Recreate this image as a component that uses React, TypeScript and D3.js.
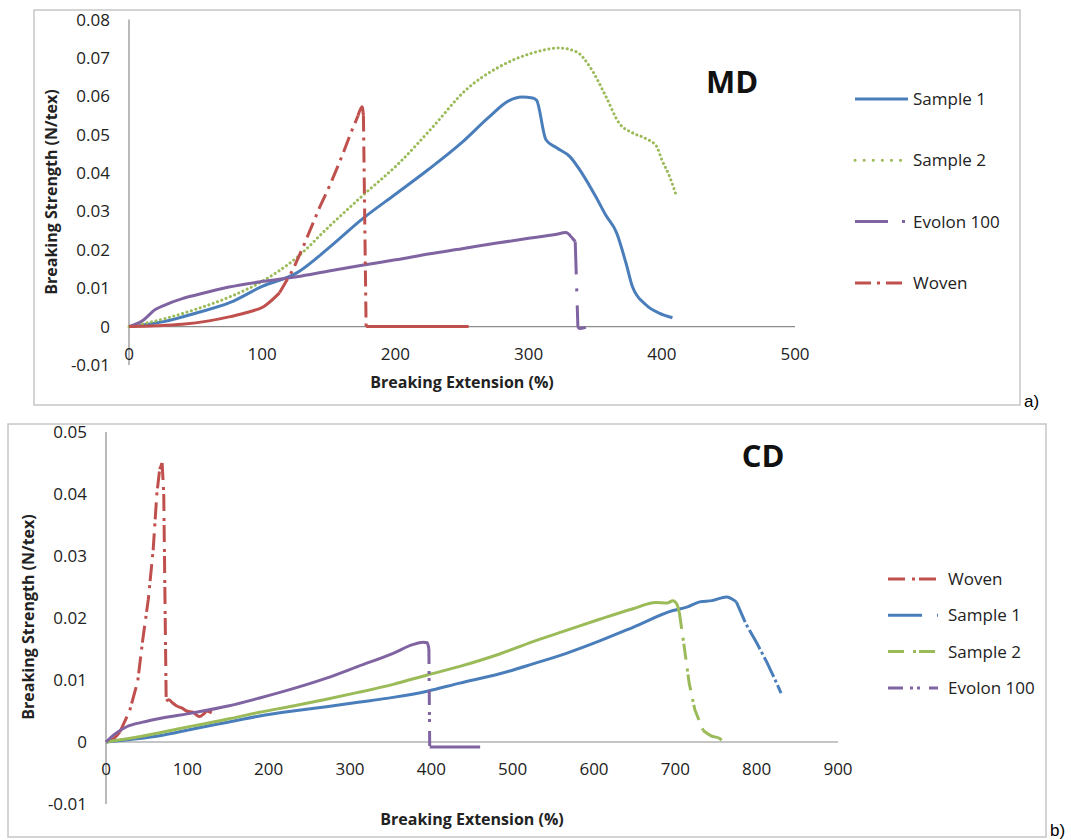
import React from 'react';
import * as d3 from 'd3';

// ---------- a) MD : breaking extension (%) vs breaking strength (N/tex) ----------
const mdSample1X = [0, 10, 26, 50, 76, 100, 126, 150, 175, 200, 225, 250, 270, 285, 295, 303, 306, 313, 321, 331, 340, 351, 358, 366, 373, 378, 388, 398, 408];
const mdSample1Y = [0, 0.0004, 0.0013, 0.0035, 0.0063, 0.0105, 0.014, 0.0205, 0.028, 0.0345, 0.041, 0.048, 0.0545, 0.0588, 0.0598, 0.0596, 0.059, 0.0487, 0.0466, 0.0443, 0.04, 0.0335, 0.029, 0.0245, 0.0167, 0.0104, 0.0057, 0.0035, 0.0023];

const mdSample2X = [0, 26, 50, 76, 100, 126, 150, 175, 203, 228, 253, 278, 303, 323, 336, 346, 358, 368, 378, 388, 396, 400, 406, 411];
const mdSample2Y = [0, 0.002, 0.0045, 0.0078, 0.0118, 0.018, 0.026, 0.034, 0.0427, 0.052, 0.0617, 0.0677, 0.0713, 0.0726, 0.0716, 0.0677, 0.06, 0.053, 0.0505, 0.049, 0.047, 0.0435, 0.039, 0.034];

const mdEvolonX = [0, 10, 20, 26, 40, 51, 75, 101, 126, 150, 175, 200, 226, 250, 275, 300, 320, 328, 333, 335, 337, 338, 343];
const mdEvolonY = [0, 0.0015, 0.0045, 0.0055, 0.0073, 0.0083, 0.0103, 0.0118, 0.013, 0.0145, 0.016, 0.0174, 0.019, 0.0203, 0.0217, 0.023, 0.024, 0.0245, 0.023, 0.0222, 0, -0.0005, -0.0002];

const mdWovenX = [0, 20, 40, 60, 76, 90, 101, 113, 123, 131, 143, 151, 160, 166, 172, 175, 176, 178, 180, 200, 230, 255];
const mdWovenY = [0, 0.0002, 0.0006, 0.0015, 0.0026, 0.0038, 0.0052, 0.0088, 0.0148, 0.021, 0.031, 0.037, 0.0445, 0.05, 0.055, 0.0573, 0.055, 0, 0, 0, 0, 0];

const mdTicksX = [0, 100, 200, 300, 400, 500];
const mdTicksY = [-0.01, 0, 0.01, 0.02, 0.03, 0.04, 0.05, 0.06, 0.07, 0.08];

// ---------- b) CD ----------
const cdWovenX = [0, 10, 17, 29, 39, 45, 52, 58, 62.5, 66, 69, 71, 74, 77, 82, 87, 93, 99, 107, 115, 120, 124, 130];
const cdWovenY = [0, 0.0006, 0.0016, 0.005, 0.0098, 0.0163, 0.023, 0.031, 0.04, 0.044, 0.045, 0.04, 0.0066, 0.0068, 0.0063, 0.0058, 0.0055, 0.005, 0.0048, 0.0041, 0.0045, 0.005, 0.0047];

const cdSample1X = [0, 30, 66, 107, 150, 189, 230, 271, 310, 353, 395, 435, 484, 525, 566, 607, 648, 697, 715, 730, 745, 763, 775, 787, 800, 812, 821, 830];
const cdSample1Y = [0, 0.0004, 0.001, 0.0021, 0.0032, 0.0042, 0.005, 0.0057, 0.0064, 0.0072, 0.0082, 0.0095, 0.011, 0.0126, 0.0143, 0.0163, 0.0185, 0.0212, 0.0218, 0.0226, 0.0228, 0.0234, 0.0226, 0.019, 0.016, 0.013, 0.0105, 0.0079];

const cdSample2X = [0, 30, 66, 107, 150, 189, 230, 271, 310, 353, 395, 435, 484, 525, 566, 607, 648, 676, 690, 697, 702, 705, 711, 717, 724, 734, 744, 754, 757];
const cdSample2Y = [0, 0.0006, 0.0015, 0.0026, 0.0037, 0.0048, 0.0058, 0.0069, 0.008, 0.0093, 0.0108, 0.0122, 0.0142, 0.0162, 0.018, 0.0198, 0.0215, 0.0225, 0.0224, 0.0228, 0.0222, 0.0208, 0.0153, 0.0095, 0.0052, 0.0019, 0.001, 0.0006, 0.0003];

const cdEvolonX = [0, 10, 26, 45, 66, 107, 150, 189, 230, 271, 310, 353, 377, 390, 395, 397, 398, 400, 430, 460];
const cdEvolonY = [0, 0.0012, 0.0025, 0.0032, 0.0038, 0.0047, 0.0058, 0.0071, 0.0086, 0.0103, 0.0122, 0.0143, 0.0157, 0.0161, 0.016, 0.015, -0.0008, -0.0008, -0.0008, -0.0008];

const cdTicksX = [0, 100, 200, 300, 400, 500, 600, 700, 800, 900];
const cdTicksY = [-0.01, 0, 0.01, 0.02, 0.03, 0.04, 0.05];

const BLUE = '#4a7ebb';
const GREEN = '#9bbb59';
const PURPLE = '#8064a2';
const RED = '#c0504d';
const FONT = '"Open Sans", sans-serif';

type Series = {
  name: string;
  xs: number[];
  ys: number[];
  color: string;
  mode: 'solid' | 'dotted' | 'steep';
  dash?: string;
};

const mdSeries: Series[] = [
  { name: 'Sample 1', xs: mdSample1X, ys: mdSample1Y, color: BLUE, mode: 'solid' },
  { name: 'Sample 2', xs: mdSample2X, ys: mdSample2Y, color: GREEN, mode: 'dotted', dash: '0.1,4.5' },
  { name: 'Evolon 100', xs: mdEvolonX, ys: mdEvolonY, color: PURPLE, mode: 'steep', dash: '33,14,3,14' },
  { name: 'Woven', xs: mdWovenX, ys: mdWovenY, color: RED, mode: 'steep', dash: '16,6,3,6' },
];

const cdSeries: Series[] = [
  { name: 'Woven', xs: cdWovenX, ys: cdWovenY, color: RED, mode: 'steep', dash: '17,7,3,4' },
  { name: 'Sample 1', xs: cdSample1X, ys: cdSample1Y, color: BLUE, mode: 'steep', dash: '34,15,3,15' },
  { name: 'Sample 2', xs: cdSample2X, ys: cdSample2Y, color: GREEN, mode: 'steep', dash: '16,9,3,3' },
  { name: 'Evolon 100', xs: cdEvolonX, ys: cdEvolonY, color: PURPLE, mode: 'steep', dash: '15,7,3,4,3,9' },
];

// tighter pattern used where the blue CD curve falls off
const dataDash: Record<string, string> = { 'cd-Sample 1': '22,3,3,3' };

const smooth = d3.line().curve(d3.curveMonotoneX);

// Excel-like: smooth parts drawn solid, steep jumps show the dash pattern
function buildPaths(s: Series, x: d3.ScaleLinear<number, number>, y: d3.ScaleLinear<number, number>, dash?: string) {
  const pts: [number, number][] = s.xs.map((v, i) => [x(v), y(s.ys[i])]);
  if (s.mode !== 'steep') {
    return [{ d: smooth(pts) as string, dash: s.mode === 'dotted' ? s.dash : undefined }];
  }
  const out: { d: string; dash?: string }[] = [];
  let run: [number, number][] = [pts[0]];
  let steepRun: [number, number][] = [];
  for (let i = 1; i < pts.length; i++) {
    const [x0, y0] = pts[i - 1];
    const [x1, y1] = pts[i];
    const steep = Math.abs(y1 - y0) > 1.7 * Math.abs(x1 - x0) && Math.abs(y1 - y0) > 12;
    if (steep) {
      if (run.length > 1) out.push({ d: smooth(run) as string });
      run = [];
      if (steepRun.length === 0) steepRun.push(pts[i - 1]);
      steepRun.push(pts[i]);
    } else {
      if (steepRun.length > 1) out.push({ d: d3.line()(steepRun) as string, dash });
      steepRun = [];
      if (run.length === 0) run.push(pts[i - 1]);
      run.push(pts[i]);
    }
  }
  if (run.length > 1) out.push({ d: smooth(run) as string });
  if (steepRun.length > 1) out.push({ d: d3.line()(steepRun) as string, dash });
  return out;
}

type ChartProps = {
  id: string;
  frame: { x0: number; y0: number; x1: number; y1: number };
  series: Series[];
  xDomain: [number, number];
  xRange: [number, number];
  yDomain: [number, number];
  yRange: [number, number];
  ticksX: number[];
  ticksY: number[];
  yLabelRight: number;
  xLabelBaseline: number;
  xTitle: { x: number; y: number };
  yTitle: { x: number; y: number };
  tag: { text: string; x: number; y: number };
  legend: { x0: number; x1: number; tx: number; y0: number; dy: number };
  panel: { text: string; x: number; y: number };
};

function Chart(p: ChartProps) {
  const x = d3.scaleLinear().domain(p.xDomain).range(p.xRange);
  const y = d3.scaleLinear().domain(p.yDomain).range(p.yRange);
  const fmtY = (v: number) => (v === 0 ? '0' : v.toFixed(2));
  return (
    <g>
      <rect x={p.frame.x0} y={p.frame.y0} width={p.frame.x1 - p.frame.x0} height={p.frame.y1 - p.frame.y0}
        fill="#fff" stroke="#c6c6c6" strokeWidth={1.5} />
      {/* axes */}
      <line x1={x(0)} x2={x(0)} y1={y(p.yDomain[0])} y2={y(p.yDomain[1])} stroke="#8c8c8c" strokeWidth={1.2} />
      <line x1={x(p.xDomain[0])} x2={x(p.xDomain[1])} y1={y(0)} y2={y(0)} stroke="#8c8c8c" strokeWidth={1.2} />
      {p.ticksY.map(t => (
        <text key={'y' + t} x={p.yLabelRight} y={y(t)} dy="0.35em" textAnchor="end"
          fontFamily={FONT} fontSize={17} fill="#222">{fmtY(t)}</text>
      ))}
      {p.ticksX.map(t => (
        <text key={'x' + t} x={x(t)} y={p.xLabelBaseline} textAnchor="middle"
          fontFamily={FONT} fontSize={17} fill="#222">{t}</text>
      ))}
      <text x={p.xTitle.x} y={p.xTitle.y} textAnchor="middle" fontFamily={FONT} fontSize={16}
        fontWeight="bold" fill="#222">Breaking Extension (%)</text>
      <text transform={`translate(${p.yTitle.x},${p.yTitle.y}) rotate(-90)`} textAnchor="middle"
        fontFamily={FONT} fontSize={16} fontWeight="bold" fill="#222">Breaking Strength (N/tex)</text>
      {/* series */}
      {p.series.map(s => (
        <g key={s.name}>
          {buildPaths(s, x, y, dataDash[`${p.id}-${s.name}`] ?? s.dash).map((seg, i) => (
            <path key={i} d={seg.d} fill="none" stroke={s.color} strokeWidth={3}
              strokeDasharray={seg.dash} strokeLinecap={s.mode === 'dotted' ? 'round' : 'butt'}
              strokeLinejoin="round" />
          ))}
        </g>
      ))}
      <text x={p.tag.x} y={p.tag.y} textAnchor="middle" fontFamily={FONT} fontSize={31}
        fontWeight="bold" fill="#111">{p.tag.text}</text>
      {/* legend */}
      {p.series.map((s, i) => {
        const ly = p.legend.y0 + i * p.legend.dy;
        return (
          <g key={'lg' + s.name}>
            <line x1={p.legend.x0} x2={p.legend.x1} y1={ly} y2={ly} stroke={s.color} strokeWidth={3}
              strokeDasharray={s.mode === 'dotted' ? '0.1,9' : s.dash}
              strokeLinecap={s.mode === 'dotted' ? 'round' : 'butt'} />
            <text x={p.legend.tx} y={ly} dy="0.35em" fontFamily={FONT} fontSize={17} fill="#222">{s.name}</text>
          </g>
        );
      })}
      <text x={p.panel.x} y={p.panel.y} fontFamily='"Liberation Sans", Arial, sans-serif' fontSize={17}
        fill="#000">{p.panel.text}</text>
    </g>
  );
}

export default function App() {
  return (
    <svg width={1071} height={840} style={{ position: 'absolute', left: 0, top: 0, background: '#fff' }}>
      <rect width={1071} height={840} fill="#fff" />
      <Chart
        id="md"
        frame={{ x0: 34, y0: 10, x1: 1020, y1: 405 }}
        series={mdSeries}
        xDomain={[0, 500]} xRange={[129, 795]}
        yDomain={[-0.01, 0.08]} yRange={[365, 19.6]}
        ticksX={mdTicksX} ticksY={mdTicksY}
        yLabelRight={110} xLabelBaseline={360}
        xTitle={{ x: 462, y: 388 }} yTitle={{ x: 57, y: 192 }}
        tag={{ text: 'MD', x: 732, y: 93 }}
        legend={{ x0: 855, x1: 908, tx: 913, y0: 99, dy: 61.3 }}
        panel={{ text: 'a)', x: 1024, y: 407 }}
      />
      <Chart
        id="cd"
        frame={{ x0: 8, y0: 424, x1: 1046, y1: 837 }}
        series={cdSeries}
        xDomain={[0, 900]} xRange={[106, 838]}
        yDomain={[-0.01, 0.05]} yRange={[804, 432]}
        ticksX={cdTicksX} ticksY={cdTicksY}
        yLabelRight={87} xLabelBaseline={775}
        xTitle={{ x: 472, y: 825 }} yTitle={{ x: 34, y: 617 }}
        tag={{ text: 'CD', x: 763, y: 467 }}
        legend={{ x0: 888, x1: 938, tx: 948, y0: 579, dy: 36.3 }}
        panel={{ text: 'b)', x: 1050, y: 836 }}
      />
    </svg>
  );
}
